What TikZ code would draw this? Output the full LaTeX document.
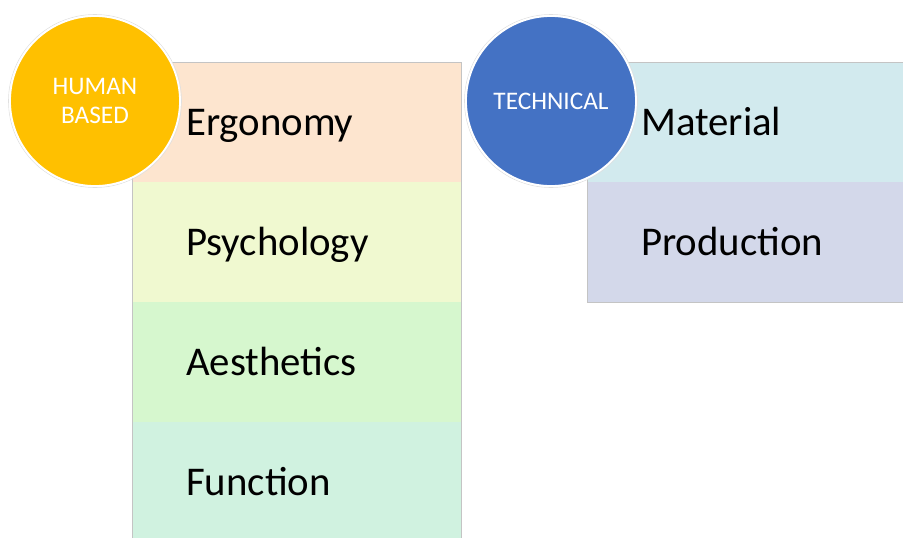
\documentclass[tikz,border=0pt]{standalone}
\usepackage{fontspec}
\setmainfont{Carlito}
\usetikzlibrary{calc}
\definecolor{cErgo}{HTML}{FDE5CF}
\definecolor{cPsy}{HTML}{F0F9D0}
\definecolor{cAes}{HTML}{D6F7CE}
\definecolor{cFun}{HTML}{D0F2E0}
\definecolor{cMat}{HTML}{D2EAEE}
\definecolor{cProd}{HTML}{D3D8EA}
\definecolor{cGold}{HTML}{FFC000}
\definecolor{cBlue}{HTML}{4472C4}
\definecolor{cEdge}{HTML}{C4C4C4}
\tikzset{
  rowbox/.style={draw=none, anchor=north west, minimum width=#1, minimum height=120pt, inner sep=0pt},
  rowtext/.style={anchor=base west, font=\fontsize{40.8}{44}\selectfont, text=black, inner sep=0pt},
  badge/.style={circle, minimum size=170pt, inner sep=0pt, draw=white, line width=1.8pt, font=\fontsize{25.3}{29.5}\selectfont, align=center},
  halo/.style={circle, minimum size=173pt, inner sep=0pt, draw=black!12, line width=0.6pt}
}
\begin{document}
\begin{tikzpicture}[x=1pt,y=-1pt]
\useasboundingbox (0,0) rectangle (903,538);
% left column
\node[rowbox=329pt, fill=cErgo] (ergo) at (132,62) {};
\node[rowbox=329pt, fill=cPsy] (psy) at (132,182) {};
\node[rowbox=329pt, fill=cAes] (aes) at (132,302) {};
\node[rowbox=329pt, fill=cFun] (fun) at (132,422) {};
\draw[cEdge, line width=0.8pt] (fun.south west) -- (ergo.north west) -- (ergo.north east) -- (fun.south east);
\node[rowtext] (t1) at ($(ergo.west)+(54,13)$) {Ergonomy};
\node[rowtext] (t2) at ($(psy.west)+(54,13)$) {Psychology};
\node[rowtext] (t3) at ($(aes.west)+(54,13)$) {Aesthetics};
\node[rowtext] (t4) at ($(fun.west)+(54,13)$) {Function};
% right column
\node[rowbox=316pt, fill=cMat] (mat) at (587,62) {};
\node[rowbox=316pt, fill=cProd] (prod) at (587,182) {};
\draw[cEdge, line width=0.8pt] (mat.north east) -- (mat.north west) -- (prod.south west) -- (prod.south east);
\node[rowtext] (t5) at ($(mat.west)+(54,13)$) {Material};
\node[rowtext] (t6) at ($(prod.west)+(54,13)$) {Production};
% circles
\node[halo] (h1) at (95,101) {};
\node[badge, fill=cGold, text=white] (human) at (95,101) {HUMAN\\BASED};
\node[halo] (h2) at (551,101) {};
\node[badge, fill=cBlue, text=white] (tech) at (551,101) {TECHNICAL};
\end{tikzpicture}
\end{document}
